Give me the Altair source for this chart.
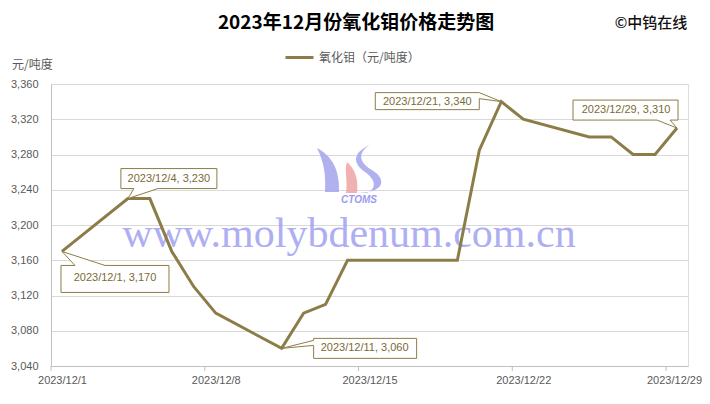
import altair as alt
import pandas as pd

# ---------------- data ----------------
dates = ["2023/12/1", "2023/12/4", "2023/12/5", "2023/12/6", "2023/12/7", "2023/12/8",
         "2023/12/11", "2023/12/12", "2023/12/13", "2023/12/14", "2023/12/15",
         "2023/12/18", "2023/12/19", "2023/12/20", "2023/12/21", "2023/12/22",
         "2023/12/25", "2023/12/26", "2023/12/27", "2023/12/28", "2023/12/29"]
prices = [3170, 3230, 3230, 3170, 3130, 3100,
          3060, 3100, 3110, 3160, 3160,
          3160, 3160, 3285, 3340, 3320,
          3300, 3300, 3280, 3280, 3310]

x_label_days = [1, 8, 15, 22, 29]
x_tick_days = [0.5, 7.5, 14.5, 21.5, 28.5]
y_ticks = [3040, 3080, 3120, 3160, 3200, 3240, 3280, 3320, 3360]
callout_dates = ["2023/12/1", "2023/12/4", "2023/12/11", "2023/12/21", "2023/12/29"]

series_name = "氧化钼（元/吨度）"
title_text = "2023年12月份氧化钼价格走势图"
source_text = "©中钨在线"
unit_text = "元/吨度"
watermark_text = "www.molybdenum.com.cn"
logo_text = "CTOMS"

# ---------------- styles ----------------
OLIVE = "#8C7D48"
TEXT_OLIVE = "#7A6A36"
GREY_TXT = "#595959"
GRID = "#d9d9d9"
AXIS = "#bfbfbf"
CJK = "Noto Sans CJK SC"
LATIN = "Liberation Sans"

# callout box shapes (pixel paths relative to the point) and text offsets
callout_style = {
    "2023/12/1": ("M-1,14 L13,14 L0,0 L43,14 L107,14 L107,41 L-1,41 Z", 53, 27),
    "2023/12/4": ("M-7,-30 L89,-30 L89,-10 L30,-10 L0,0 L6,-10 L-7,-10 Z", 41, -20),
    "2023/12/11": ("M32,-10 L135,-10 L135,10 L32,10 L32,-3 L0,0 L32,-8 Z", 83, 0),
    "2023/12/21": ("M-126,-9 L-22,-9 L0,0 L-22,-3 L-22,8 L-126,8 Z", -74, 0),
    "2023/12/29": ("M-104,-28 L1,-28 L1,-8 L-7,-8 L0,0 L-20,-8 L-104,-8 Z", -51, -18),
}

days = [int(d.split("/")[-1]) for d in dates]
df = pd.DataFrame({"date": dates, "day": days, "price": prices, "series": series_name})

W, H = 637, 282

x_scale = alt.Scale(domain=[0.5, 29.5], nice=False, zero=False)
y_scale = alt.Scale(domain=[3040, 3360], nice=False, zero=False)
x_axis = alt.Axis(values=x_label_days, labelExpr="'2023/12/' + datum.value",
                  ticks=False, grid=False, domainColor=AXIS,
                  labelColor=GREY_TXT, labelFontSize=11, labelFont=LATIN,
                  labelPadding=8, title=None, labelFlush=False,
                  labelOffset=alt.condition("datum.value == 29", alt.value(-3), alt.value(0)))
y_axis = alt.Axis(values=y_ticks, format=",d", grid=True, gridColor=GRID,
                  ticks=False, domainColor=AXIS, labelColor=GREY_TXT,
                  labelFontSize=11, labelFont=LATIN, labelPadding=13, title=None)


def xe():
    return alt.X("day:Q", scale=x_scale, axis=x_axis)


def ye():
    return alt.Y("price:Q", scale=y_scale, axis=y_axis)


line = alt.Chart(df).mark_line(strokeWidth=3, strokeJoin="miter").encode(
    x=xe(), y=ye(),
    color=alt.Color("series:N",
                    scale=alt.Scale(range=[OLIVE]),
                    legend=alt.Legend(orient="none", legendX=233, legendY=-42,
                                      title=None, symbolType="stroke",
                                      symbolStrokeWidth=3, symbolSize=784,
                                      labelFont=CJK, labelFontSize=12,
                                      labelColor=GREY_TXT, labelOffset=4)),
)

ticks_df = pd.DataFrame({"day": x_tick_days})
xticks = alt.Chart(ticks_df).mark_rule(color=AXIS, strokeWidth=1).encode(
    x=xe(), y=alt.value(H), y2=alt.value(H + 5),
)

# watermark
wm = alt.Chart(pd.DataFrame({"t": [watermark_text]})).mark_text(
    font="Liberation Serif", fontSize=42, color="#9b9bf0", opacity=0.8,
    align="center", baseline="middle",
).encode(x=alt.value(298), y=alt.value(150), text="t:N")

logo_shapes = [
    ("M-35,-22 C-20,-14 -12,0 -13,22 L-27,22 C-26,5 -28,-8 -35,-22 Z", "#a9a9ee"),
    ("M-5,-8 C2,-2 7,8 5,23 L-6,23 C-4,10 -8,0 -5,-8 Z", "#f1a9a9"),
    ("M18,-25 C6,-18 6,-8 20,0 C36,10 32,23 4,23 L15,23 C25,18 24,10 13,2 C-1,-8 2,-18 18,-25 Z", "#a9a9ee"),
]
logo_layers = []
for p, c in logo_shapes:
    logo_layers.append(
        alt.Chart(pd.DataFrame({"k": [0]})).mark_point(
            shape=p, size=4, filled=True, color=c, opacity=0.9, strokeWidth=0
        ).encode(x=alt.value(301), y=alt.value(86))
    )
logo_txt = alt.Chart(pd.DataFrame({"t": [logo_text]})).mark_text(
    font=LATIN, fontSize=10, fontWeight="bold", fontStyle="italic",
    color="#9b9bf0", align="center", baseline="middle",
).encode(x=alt.value(308), y=alt.value(116), text="t:N")

# callouts
callout_layers = []
for cd in callout_dates:
    i = dates.index(cd)
    row = pd.DataFrame({"day": [days[i]], "price": [prices[i]]})
    path, tdx, tdy = callout_style[cd]
    label = f"{cd}, {prices[i]:,}"
    box = alt.Chart(row).mark_point(
        shape=path, size=4, filled=True, fill="white", stroke=OLIVE,
        strokeWidth=1, opacity=1, fillOpacity=1, strokeOpacity=1,
    ).encode(x=xe(), y=ye())
    txt = alt.Chart(row).mark_text(
        text=label, dx=tdx, dy=tdy, font=LATIN, fontSize=11, color=TEXT_OLIVE,
        align="center", baseline="middle",
    ).encode(x=xe(), y=ye())
    callout_layers += [box, txt]

# header texts
title = alt.Chart(pd.DataFrame({"t": [title_text]})).mark_text(
    font=CJK, fontSize=19, fontWeight="bold", color="#000000",
    align="center", baseline="middle",
).encode(x=alt.value(305), y=alt.value(-61), text="t:N")
source = alt.Chart(pd.DataFrame({"t": [source_text]})).mark_text(
    font=CJK, fontSize=15, fontWeight=500, color="#111111", align="center",
    baseline="middle",
).encode(x=alt.value(600), y=alt.value(-61), text="t:N")
unit = alt.Chart(pd.DataFrame({"t": [unit_text]})).mark_text(
    font=CJK, fontSize=12, color=GREY_TXT, align="left", baseline="middle",
).encode(x=alt.value(-39), y=alt.value(-19), text="t:N")

chart = alt.layer(
    wm, *logo_layers, logo_txt, xticks, line, *callout_layers, title, source, unit
).properties(
    width=W, height=H,
    autosize=alt.AutoSizeParams(type="none"),
    padding={"left": 43, "top": 76, "right": 14, "bottom": 26},
).configure_view(stroke=GRID).configure(background="white")

chart.save("out.html", embed_options={"renderer": "svg", "actions": False})
